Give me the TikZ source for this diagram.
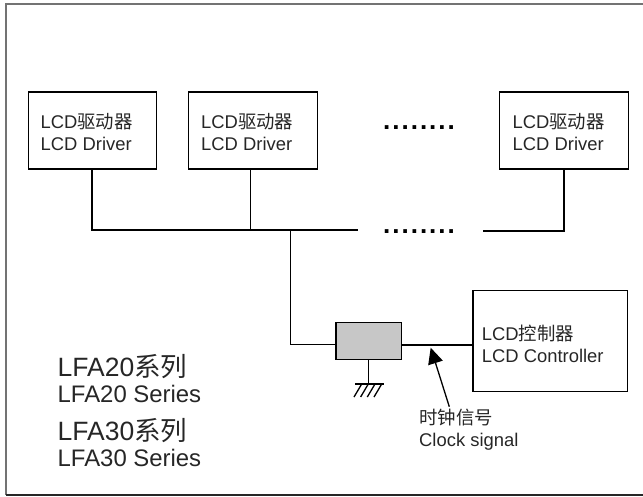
\documentclass[tikz,border=0pt]{standalone}
\usepackage{fontspec}
\setmainfont{Liberation Sans}
\newfontfamily\cjk{Noto Sans CJK SC}
\usetikzlibrary{arrows.meta}
\newcommand{\leaderdots}{.\kern2pt.\kern2pt.\kern2pt.\kern2pt.\kern2pt.\kern2pt.\kern2pt.}
\tikzset{
  unitbox/.style={draw,line width=1.3pt,inner sep=0pt,minimum width=128.5pt,minimum height=77pt},
  unitlabel/.style={align=left,font=\fontsize{18.4}{22}\selectfont,inner sep=0pt,anchor=base west,text=black!85},
  serieslabel/.style={align=left,font=\fontsize{23.9}{26}\selectfont,inner sep=0pt,anchor=base west,text=black!85},
  dotsrow/.style={font=\bfseries\fontsize{26}{26}\selectfont,inner sep=0pt,anchor=base},
  wire/.style={line width=1.3pt},
}
\begin{document}
\begin{tikzpicture}[x=1pt,y=-1pt,>=latex]
  \useasboundingbox (0,0) rectangle (643,496);
  \draw[line width=1.8pt,black!55] (643,4) -- (5.7,4) -- (5.7,495);
  \draw[line width=1.4pt,black!85] (5.7,495) -- (643,495);

  % driver boxes
  \node[unitbox] (driverA) at (92.4,130.5) {};
  \node[unitbox] (driverB) at (253,130.5) {};
  \node[unitbox] (driverC) at (564,130.5) {};
  \node[unitlabel] (labelA) at (40.5,150) {LCD{\cjk 驱动器}\\LCD Driver};
  \node[unitlabel] (labelB) at (201,150) {LCD{\cjk 驱动器}\\LCD Driver};
  \node[unitlabel] (labelC) at (512.5,150) {LCD{\cjk 驱动器}\\LCD Driver};

  \node[dotsrow] (dotsTop) at (419,129) {\leaderdots};
  \node[dotsrow] (dotsBus) at (419,233) {\leaderdots};

  % bus
  \coordinate (busL) at (92,230);
  \coordinate (busB) at (250.7,230);
  \coordinate (busT) at (290.7,230);
  \coordinate (busE) at (358,230);
  \coordinate (busS) at (482.7,231);
  \coordinate (busR) at (564,231);
  \draw[wire] (driverA.south -| busL) -- (busL) -- (busE);
  \draw[wire] (driverB.south -| busB) -- (busB);
  \draw[wire] (driverC.south) -- (busR) -- (busS);

  % clock buffer
  \node[draw,line width=1.3pt,fill=black!22,minimum width=65.3pt,minimum height=36.6pt,inner sep=0pt] (buffer) at (368.6,341) {};
  \node[draw,line width=1.3pt,minimum width=154.3pt,minimum height=101pt,inner sep=0pt] (ctrl) at (550.2,341.2) {};
  \node[unitlabel] (labelD) at (481.7,362) {LCD{\cjk 控制器}\\LCD Controller};
  \coordinate (bufIn) at (336,344.3);
  \coordinate (bufOut) at (401.3,345);
  \draw[wire] (busT) |- (bufIn);
  \draw[wire] (bufOut) -- (bufOut -| ctrl.west);

  % ground
  \coordinate (gnd) at (368.7,384);
  \draw[wire] (buffer.south -| gnd) -- (gnd);
  \draw[wire] (355,384) -- (384,384);
  \foreach \x in {361.7,368.3,375,381.7}
    \draw[wire] (\x,384) -- ++(-7.7,13);

  % clock arrow
  \node[unitlabel] (clk) at (419,446.7) {{\cjk 时钟信号}\\Clock signal};
  \coordinate (clkTail) at (449.3,406.7);
  \coordinate (clkTip) at (430.7,347.7);
  \draw[wire,-{Triangle[length=16pt,width=15pt]}] (clkTail) -- (clkTip);

  % series labels
  \node[serieslabel] (seriesA) at (57.5,402.7) {{\fontsize{26.5}{26}\selectfont LFA20{\cjk 系列}}\\LFA20 Series};
  \node[serieslabel] (seriesB) at (57.5,466) {{\fontsize{26.5}{26}\selectfont LFA30{\cjk 系列}}\\LFA30 Series};
\end{tikzpicture}
\end{document}
